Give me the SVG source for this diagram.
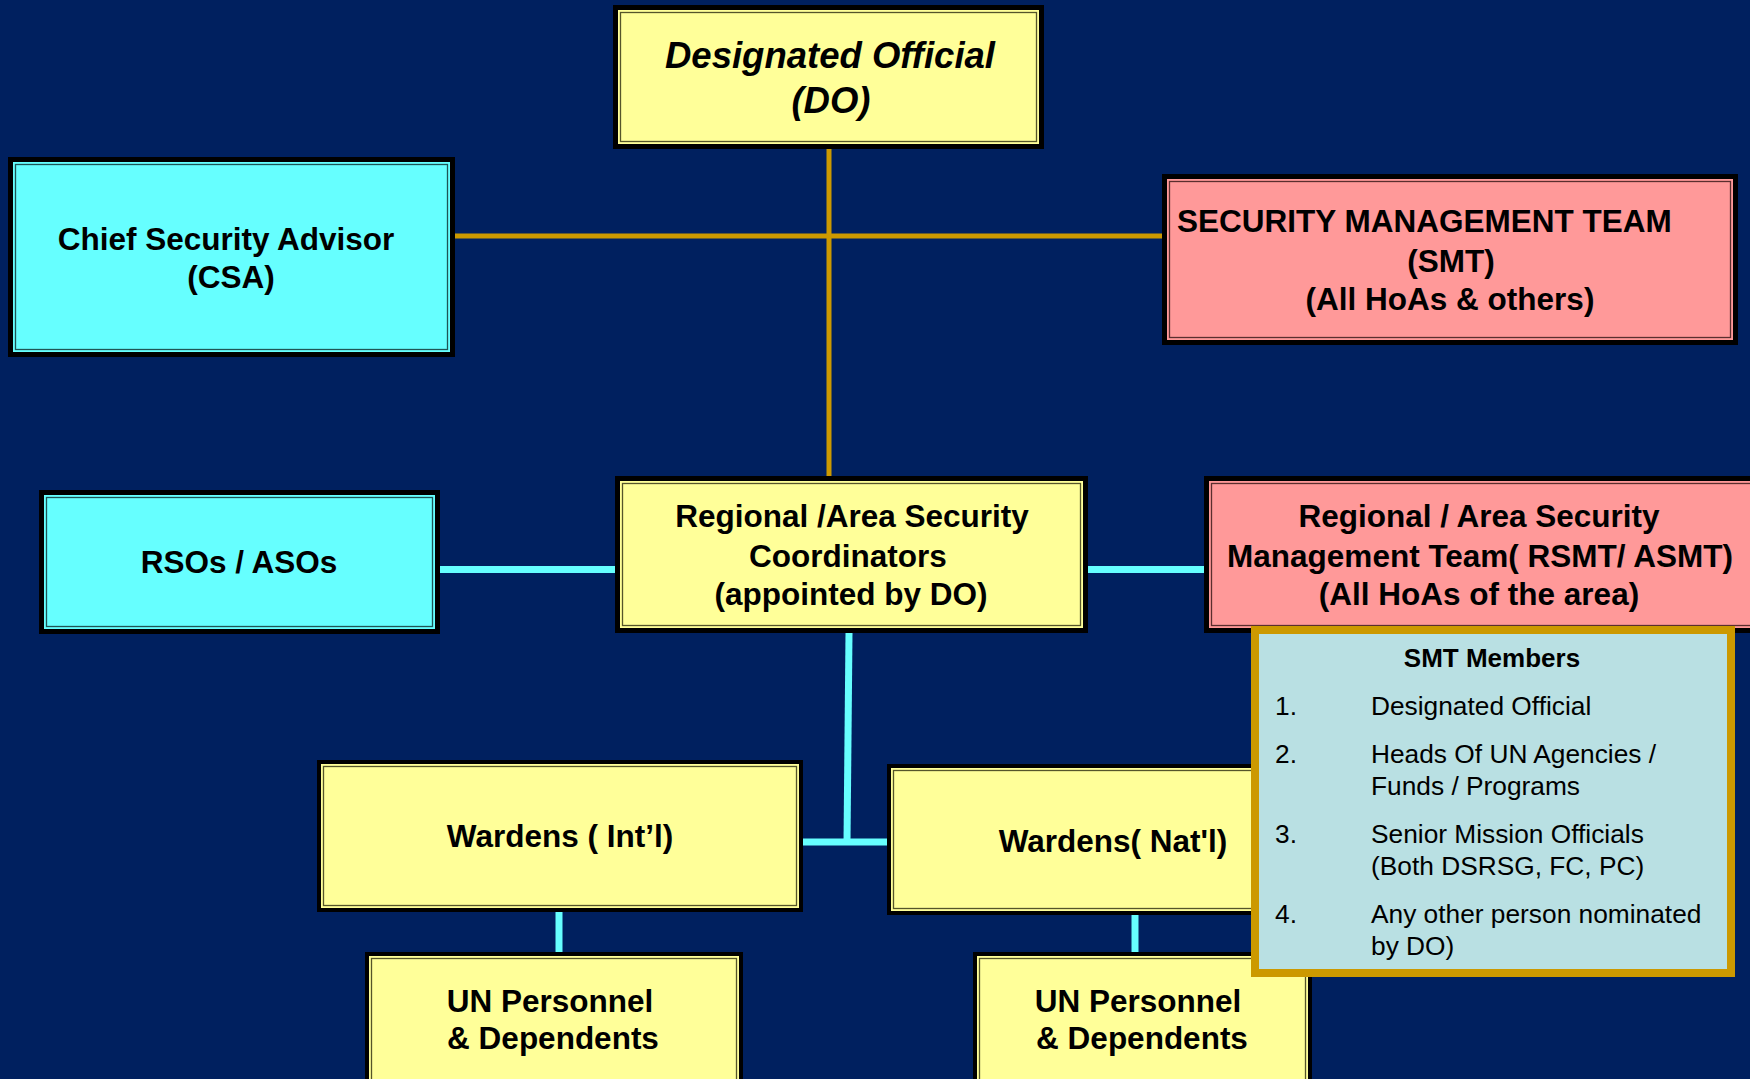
<svg xmlns="http://www.w3.org/2000/svg" width="1750" height="1079" viewBox="0 0 1750 1079">
<style>
.bg{fill:#00205F}
.frame{fill:#000}
.fy{fill:#FFFF99}
.fc{fill:#66FFFF}
.fp{fill:#FF9999}
.iy{fill:none;stroke:#55552A;stroke-width:1.3}
.ic{fill:none;stroke:#1F5555;stroke-width:1.3}
.ip{fill:none;stroke:#5A2E2E;stroke-width:1.3}
.gold{stroke:#CC9900;stroke-width:5;fill:none}
.cyan{stroke:#66FFFF;stroke-width:7;fill:none}
text{font-family:"Liberation Sans",Arial,sans-serif;fill:#000}
.b{font-weight:bold;font-size:31.5px;text-anchor:middle}
.bi{font-weight:bold;font-style:italic;font-size:36.5px;text-anchor:middle}
.h{font-weight:bold;font-size:26px;text-anchor:middle}
.r{font-size:26.3px}
</style>
<rect class="bg" x="0" y="0" width="1750" height="1079"/>

<g id="connectors">
  <line class="gold" x1="829" y1="149" x2="829" y2="476"/>
  <line class="gold" x1="455" y1="236" x2="1162" y2="236"/>
  <line class="cyan" x1="440" y1="569.5" x2="615" y2="569.5"/>
  <line class="cyan" x1="1088" y1="569.5" x2="1204" y2="569.5"/>
  <line class="cyan" x1="849" y1="633" x2="847" y2="842"/>
  <line class="cyan" x1="803" y1="842" x2="887" y2="842"/>
  <line class="cyan" x1="559" y1="912" x2="559" y2="952"/>
  <line class="cyan" x1="1135" y1="915" x2="1135" y2="952"/>
</g>

<g id="do">
  <rect class="frame" x="613" y="5" width="431" height="144"/>
  <rect class="fy" x="618" y="10" width="421" height="134"/>
  <rect class="iy" x="620.5" y="12.5" width="416" height="129"/>
  <text class="bi" x="830" y="68">Designated Official</text>
  <text class="bi" x="831" y="113">(DO)</text>
</g>

<g id="csa">
  <rect class="frame" x="8" y="157" width="447" height="200"/>
  <rect class="fc" x="13" y="162" width="437" height="190"/>
  <rect class="ic" x="15.5" y="164.5" width="432" height="185"/>
  <text class="b" x="226" y="250">Chief Security Advisor</text>
  <text class="b" x="231" y="288">(CSA)</text>
</g>

<g id="smt">
  <rect class="frame" x="1162" y="174" width="576" height="171"/>
  <rect class="fp" x="1167" y="179" width="566" height="161"/>
  <rect class="ip" x="1169.5" y="181.5" width="561" height="156"/>
  <text class="b" x="1177" y="232" style="text-anchor:start">SECURITY MANAGEMENT TEAM</text>
  <text class="b" x="1451" y="272">(SMT)</text>
  <text class="b" x="1450" y="310">(All HoAs &amp; others)</text>
</g>

<g id="rsos">
  <rect class="frame" x="39" y="490" width="401" height="144"/>
  <rect class="fc" x="44" y="495" width="391" height="134"/>
  <rect class="ic" x="46.5" y="497.5" width="386" height="129"/>
  <text class="b" x="239" y="573">RSOs / ASOs</text>
</g>

<g id="coordinators">
  <rect class="frame" x="615" y="476" width="473" height="157"/>
  <rect class="fy" x="620" y="481" width="463" height="147"/>
  <rect class="iy" x="622.5" y="483.5" width="458" height="142"/>
  <text class="b" x="852" y="527">Regional /Area Security</text>
  <text class="b" x="848" y="567">Coordinators</text>
  <text class="b" x="851" y="605">(appointed by DO)</text>
</g>

<g id="rsmt">
  <rect class="frame" x="1204" y="476" width="560" height="157"/>
  <rect class="fp" x="1209" y="481" width="550" height="147"/>
  <rect class="ip" x="1211.5" y="483.5" width="545" height="142"/>
  <text class="b" x="1479" y="527">Regional / Area Security</text>
  <text class="b" x="1480" y="567">Management Team( RSMT/ ASMT)</text>
  <text class="b" x="1479" y="605">(All HoAs of the area)</text>
</g>

<g id="wardens-intl">
  <rect class="frame" x="317" y="760" width="486" height="152"/>
  <rect class="fy" x="321" y="764" width="478" height="144"/>
  <rect class="iy" x="323.5" y="766.5" width="473" height="139"/>
  <text class="b" x="560" y="847">Wardens ( Int’l)</text>
</g>

<g id="wardens-natl">
  <rect class="frame" x="887" y="764" width="460" height="151"/>
  <rect class="fy" x="891" y="768" width="452" height="143"/>
  <rect class="iy" x="893.5" y="770.5" width="447" height="138"/>
  <text class="b" x="1113" y="852">Wardens( Nat'l)</text>
</g>

<g id="un-personnel-1">
  <rect class="frame" x="365" y="952" width="378" height="140"/>
  <rect class="fy" x="369" y="956" width="370" height="140"/>
  <rect class="iy" x="371.5" y="958.5" width="365" height="140"/>
  <text class="b" x="550" y="1012">UN Personnel</text>
  <text class="b" x="553" y="1049">&amp; Dependents</text>
</g>

<g id="un-personnel-2">
  <rect class="frame" x="973" y="952" width="339" height="140"/>
  <rect class="fy" x="977" y="956" width="331" height="140"/>
  <rect class="iy" x="979.5" y="958.5" width="326" height="140"/>
  <text class="b" x="1138" y="1012">UN Personnel</text>
  <text class="b" x="1142" y="1049">&amp; Dependents</text>
</g>

<g id="smt-members">
  <rect x="1255" y="630" width="476" height="343" fill="#B9E0E3" stroke="#CC9900" stroke-width="8"/>
  <text class="h" x="1492" y="667">SMT Members</text>
  <text class="r" x="1275" y="715">1.</text>
  <text class="r" x="1371" y="715">Designated Official</text>
  <text class="r" x="1275" y="763">2.</text>
  <text class="r" x="1371" y="763">Heads Of UN Agencies /</text>
  <text class="r" x="1371" y="795">Funds / Programs</text>
  <text class="r" x="1275" y="843">3.</text>
  <text class="r" x="1371" y="843">Senior Mission Officials</text>
  <text class="r" x="1371" y="875">(Both DSRSG, FC, PC)</text>
  <text class="r" x="1275" y="923">4.</text>
  <text class="r" x="1371" y="923">Any other person nominated</text>
  <text class="r" x="1371" y="955">by DO)</text>
</g>
</svg>
